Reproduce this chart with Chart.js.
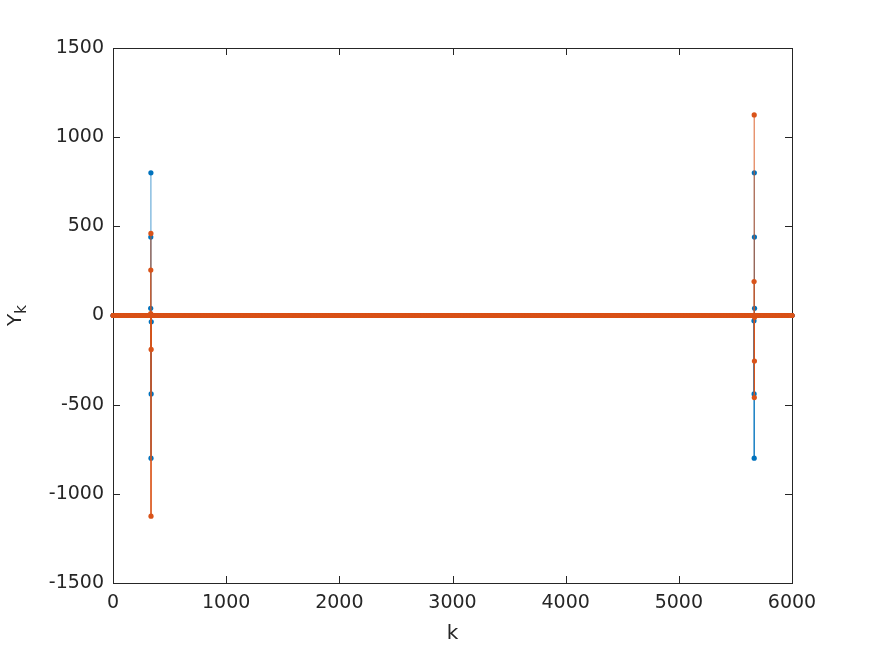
<!DOCTYPE html>
<html>
<head>
<meta charset="utf-8">
<title>Y_k</title>
<script src="https://cdn.jsdelivr.net/npm/chart.js@4"></script>
<style>
  body { margin: 0; background: #fff; }
  #wrap { width: 874px; height: 655px; }
</style>
</head>
<body>
<div id="wrap"><canvas id="myChart" width="874" height="655"></canvas></div>
<script>
// sample index range (all other samples sit on zero)
const kFirst = 1;
const kLast = 6000;

// spike near the start
const kLeft = [333, 334, 335, 336, 337, 338];
const blueLeft = [40, 440, 800, -800, -440, -35];
const orangeLeft = [10, 255, 460, -1125, -190, 0];

// spike near the end
const kRight = [5664, 5665, 5666, 5667, 5668, 5669];
const blueRight = [-30, -440, -800, 800, 440, 40];
const orangeRight = [0, 190, 1125, -460, -255, -10];

const xTicks = [0, 1000, 2000, 3000, 4000, 5000, 6000];
const yTicks = [-1500, -1000, -500, 0, 500, 1000, 1500];

const BLUE = '#0072BD';
const ORANGE = '#D95319';
const INK = '#262626';
const FONT = '"DejaVu Sans", sans-serif';

function series(ks, vs) {
    const spikes = {};
    ks.forEach((k, i) => spikes[k] = vs[i]);
    const pts = [];
    for (let k = kFirst; k <= kLast; k++) {
        pts.push({ x: k, y: spikes[k] !== undefined ? spikes[k] : 0 });
    }
    return pts;
}

function stems(ks, vs) {
    const pts = [];
    ks.forEach((k, i) => {
        pts.push({ x: k, y: 0 }, { x: k, y: vs[i] }, { x: k, y: null });
    });
    return pts;
}

const blueK = kLeft.concat(kRight);
const blueV = blueLeft.concat(blueRight);
const orangeV = orangeLeft.concat(orangeRight);

const boxPlugin = {
    id: 'box',
    beforeDatasetsDraw(chart) {
        const c = chart.ctx, a = chart.chartArea;
        const xs = chart.scales.x, ys = chart.scales.y;
        c.save();
        c.strokeStyle = INK;
        c.lineWidth = 1;
        c.strokeRect(Math.round(a.left) + 0.5, Math.round(a.top) + 0.5,
            Math.round(a.right - a.left), Math.round(a.bottom - a.top));
        c.beginPath();
        xTicks.forEach(v => {
            const px = Math.round(xs.getPixelForValue(v)) + 0.5;
            c.moveTo(px, a.bottom); c.lineTo(px, a.bottom - 7);
            c.moveTo(px, a.top); c.lineTo(px, a.top + 7);
        });
        yTicks.forEach(v => {
            const py = Math.round(ys.getPixelForValue(v)) + 0.5;
            c.moveTo(a.left, py); c.lineTo(a.left + 7, py);
            c.moveTo(a.right, py); c.lineTo(a.right - 7, py);
        });
        c.stroke();
        c.restore();
    },
    afterDraw(chart) {
        const c = chart.ctx, a = chart.chartArea;
        c.save();
        c.fillStyle = INK;
        c.textAlign = 'center';
        c.textBaseline = 'alphabetic';
        c.font = '20px ' + FONT;
        c.fillText('k', (a.left + a.right) / 2, 639);
        // Y with subscript k, rotated
        c.translate(21, (a.top + a.bottom) / 2);
        c.rotate(-Math.PI / 2);
        c.textAlign = 'left';
        c.font = '20px ' + FONT;
        const wY = c.measureText('Y').width;
        c.font = '15px ' + FONT;
        const wk = c.measureText('k').width;
        const x0 = -(wY + wk) / 2;
        c.font = '20px ' + FONT;
        c.fillText('Y', x0, 0);
        c.font = '15px ' + FONT;
        c.fillText('k', x0 + wY, 5);
        c.restore();
    }
};

new Chart(document.getElementById('myChart').getContext('2d'), {
    type: 'scatter',
    data: {
        datasets: [
            {
                data: stems(blueK, blueV),
                showLine: true,
                spanGaps: false,
                borderColor: BLUE,
                borderWidth: 0.7,
                pointRadius: 0,
                order: 4
            },
            {
                data: series(blueK, blueV),
                backgroundColor: BLUE,
                borderWidth: 0,
                pointRadius: 2.6,
                clip: false,
                order: 3
            },
            {
                data: stems(blueK, orangeV),
                showLine: true,
                spanGaps: false,
                borderColor: ORANGE,
                borderWidth: 0.9,
                pointRadius: 0,
                order: 2
            },
            {
                data: series(blueK, orangeV),
                backgroundColor: ORANGE,
                borderWidth: 0,
                pointRadius: 2.6,
                clip: false,
                order: 1
            }
        ]
    },
    options: {
        responsive: false,
        animation: false,
        events: [],
        layout: { padding: { top: 48, right: 82, left: 0, bottom: 0 } },
        plugins: {
            legend: { display: false },
            tooltip: { enabled: false }
        },
        scales: {
            x: {
                type: 'linear',
                min: 0,
                max: 6000,
                afterFit(s) { s.height = 72; },
                afterBuildTicks(s) { s.ticks = xTicks.map(v => ({ value: v })); },
                grid: { display: false, drawTicks: false },
                border: { display: false },
                ticks: {
                    color: INK, font: { size: 19, family: FONT }, padding: 9, maxRotation: 0,
                    callback: v => String(v)
                }
            },
            y: {
                min: -1500,
                max: 1500,
                afterFit(s) { s.width = 113; },
                afterBuildTicks(s) { s.ticks = yTicks.map(v => ({ value: v })); },
                grid: { display: false, drawTicks: false },
                border: { display: false },
                ticks: {
                    color: INK, font: { size: 19, family: FONT }, padding: 9,
                    callback: v => String(v)
                }
            }
        }
    },
    plugins: [boxPlugin]
});
</script>
</body>
</html>
